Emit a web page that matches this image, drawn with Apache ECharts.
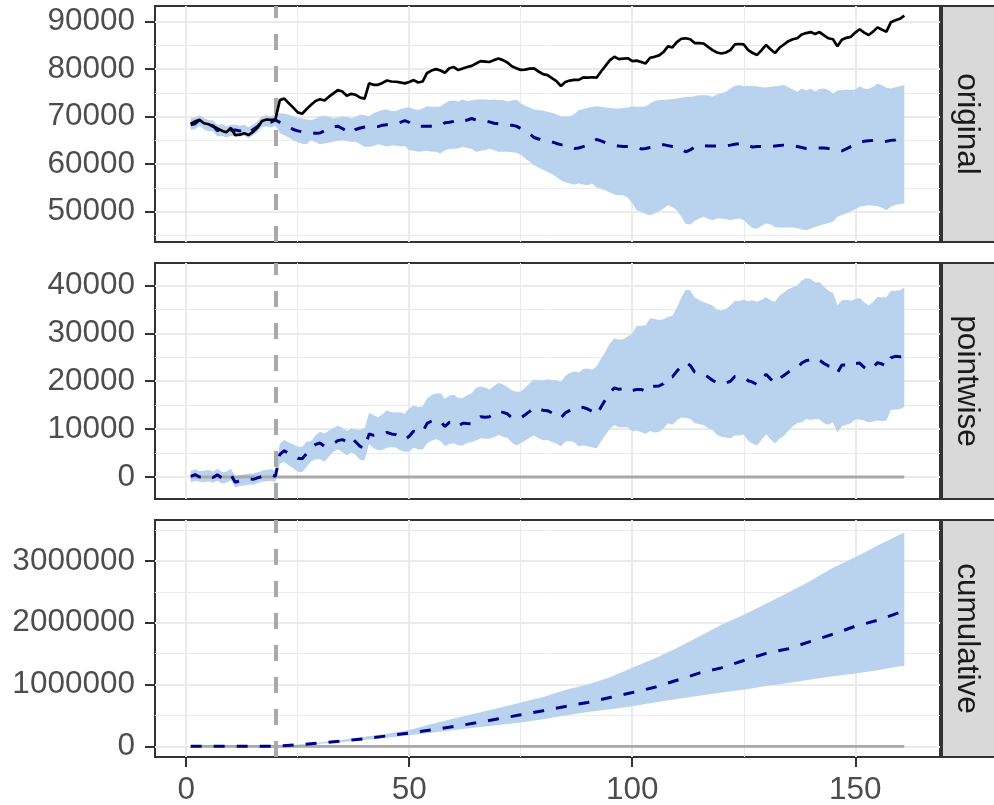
<!DOCTYPE html>
<html>
<head>
<meta charset="utf-8">
<title>CausalImpact</title>
<script src="https://cdn.jsdelivr.net/npm/echarts@6/dist/echarts.min.js"></script>
<style>
  html, body { margin: 0; padding: 0; background: #fff; }
  #main { width: 994px; height: 805px; }
</style>
</head>
<body>
<div id="main"></div>
<script>
// observed response (black line)
const actual = [
  68450, 69000, 69300, 68600, 68400, 68000, 67500, 67050, 66700, 67600,
  66100, 66200, 66500, 66150, 66800, 67700, 69100, 69400, 69300, 69450,
  73500, 73800, 72800, 71900, 70900, 70600, 71600, 72500, 73300, 73650,
  73400, 74200, 74900, 75600, 75300, 74400, 74800, 74600, 74000, 73800,
  77000, 76700, 76700, 77100, 77600, 77400, 77350, 77200, 77000, 77300,
  77700, 77200, 77400, 79200, 79700, 80000, 79700, 79250, 80200, 80450,
  79800, 80150, 80450, 80700, 81200, 81700, 81600, 81500, 81900, 82250,
  81900, 81400, 80600, 80200, 79850, 79900, 80100, 80150, 79500, 78950,
  78750, 78100, 77500, 76450, 77300, 77600, 77750, 77750, 78250, 78200,
  78300, 78200, 79500, 80700, 81900, 82600, 82100, 82200, 82300, 81700,
  81800, 81500, 81200, 82400, 82600, 82900, 83600, 84800, 84600, 85700,
  86400, 86500, 86300, 85500, 85500, 85400, 84700, 84000, 83500, 83300,
  83500, 84000, 85200, 85300, 85200, 84000, 83400, 83000, 84000, 85100,
  84200, 83400, 84500, 85200, 85900, 86300, 86500, 87300, 87600, 87800,
  87400, 87800, 87100, 86500, 86300, 84800, 86200, 86600, 86800, 87700,
  88400, 87700, 87200, 87900, 88800, 88300, 87900, 89900, 90300, 90600,
  91270
];
// predicted counterfactual (dashed) and its interval
const predMean = [
  68310, 68510, 69300, 68500, 68050, 68100, 67050, 67250, 66800, 67110,
  67200, 67000, 67200, 66550, 67300, 67900, 69000, 69050, 68850, 69300,
  68800, 68300, 67900, 67300, 67000, 66800, 66700, 66600, 66500, 66550,
  67000, 67500, 67900, 68000, 67500, 67000, 66500, 67300, 67600, 67800,
  68000, 68000, 67900, 68200, 68300, 68400, 68500, 68800, 69150, 68800,
  68100, 68000, 68000, 68000, 68000, 68000, 68100, 68700, 68800, 69000,
  69200, 68900, 69300, 69600, 69300, 69100, 69100, 68900, 68600, 68500,
  68400, 68200, 68200, 68000, 67500, 66900, 66400, 65600, 65300, 65000,
  64900, 64700, 64350, 64100, 63900, 63700, 63300, 63400, 63700, 64000,
  64600, 65200, 64900, 64500, 64200, 64000, 63800, 63700, 63700, 63650,
  63500, 63200, 63300, 63500, 63650, 63900, 64100, 63900, 63700, 63600,
  63200, 62600, 63000, 63600, 64000, 63900, 63800, 63800, 63850, 63850,
  63850, 64000, 64200, 64300, 64350, 63900, 63600, 63700, 63700, 63650,
  63700, 63800, 63900, 64000, 64000, 63900, 63700, 63500, 63300, 63300,
  63400, 63400, 63400, 63300, 63300, 63000, 62800, 63200, 63700, 64000,
  64600, 64800, 64900, 65000, 64900, 64700, 64800, 65000, 65100, 65500,
  66100
];
const predUpper = [
  69600, 69800, 70300, 69700, 69300, 69200, 68300, 68400, 67900, 68300,
  68300, 68100, 68300, 67700, 68400, 69000, 70100, 70300, 70100, 70500,
  70660, 70660, 70400, 70100, 69800, 69610, 69400, 69260, 69600, 69960,
  70200, 69900, 69610, 69800, 70100, 69900, 69610, 70000, 70450, 70300,
  70100, 70700, 71100, 71400, 71500, 71200, 71200, 71600, 71800, 72000,
  71600, 71400, 71700, 72200, 72100, 72100, 72200, 72800, 73300, 73400,
  73200, 73600, 73300, 73400, 73600, 73600, 73600, 73500, 73600, 73500,
  73500, 73200, 73400, 73600, 72800, 72300, 71900, 71500, 71400, 71300,
  71000, 70800, 70500, 70100, 69960, 70100, 70500, 71370, 71600, 71800,
  72070, 72200, 72100, 71930, 71800, 71720, 71720, 71800, 71900, 72200,
  72100, 72100, 72200, 72780, 73300, 73500, 73480, 73600, 73700, 73830,
  74000, 74180, 74180, 74300, 74500, 74530, 74500, 74200, 74700, 74900,
  75240, 75940, 76500, 76640, 76400, 76450, 76450, 76400, 76200, 76150,
  76300, 76400, 76500, 76640, 76200, 75700, 75240, 75900, 75500, 75900,
  75300, 75800, 75900, 75600, 74890, 75500, 75600, 75700, 75600, 75700,
  76400, 75900, 75800, 76300, 76990, 76600, 76100, 75900, 76200, 76400,
  76640
];
const predLower = [
  67200, 67400, 68100, 67300, 66900, 66900, 65800, 66000, 65600, 65900,
  66000, 65800, 66000, 65400, 66100, 66700, 67800, 67900, 67700, 68100,
  66500, 66100, 65600, 65040, 64600, 64300, 64200, 65040, 64600, 64200,
  64340, 64500, 64690, 64900, 65040, 64800, 64690, 64690, 64200, 63640,
  63640, 63800, 64200, 64000, 63640, 63900, 63900, 63700, 63800, 62940,
  62800, 62580, 62700, 62800, 62600, 62580, 62230, 62900, 63200, 63250,
  63300, 63640, 63400, 63200, 62580, 62800, 62900, 63250, 62900, 62580,
  62580, 62580, 62500, 62400, 62000, 61200, 60500, 59770, 59300, 58800,
  58360, 57900, 57300, 56600, 56200, 55900, 55690, 55900, 55700, 55550,
  55900, 55100, 54800, 54500, 54000, 53600, 53440, 53440, 52900, 51800,
  50280, 49900, 49500, 49230, 49600, 50100, 50630, 51330, 50900, 50300,
  48900, 47400, 47300, 48000, 48540, 48900, 48500, 48200, 48540, 48540,
  48400, 48190, 48400, 48540, 48190, 47300, 46500, 46400, 47000, 47500,
  47300, 46780, 46640, 46640, 46640, 46640, 46500, 46230, 46080, 46400,
  46780, 47100, 47350, 47600, 47840, 48900, 49300, 49600, 50000, 50500,
  51010, 51200, 51360, 51300, 51150, 50800, 50310, 51000, 51400, 51570,
  51710
];
// cumulative effect, read at these time points
const cumT = [1, 20, 25, 30, 35, 40, 45, 50, 55, 60, 65, 70, 75, 80, 85, 90,
  95, 100, 105, 110, 115, 120, 125, 130, 135, 140, 145, 150, 155, 160, 161];
const cumMean = [0, 0, 24000, 52000, 88000, 123000, 168000, 215000, 265000,
  320000, 380000, 445000, 510000, 575000, 645000, 710000, 790000, 870000,
  955000, 1070000, 1185000, 1270000, 1390000, 1505000, 1580000, 1700000,
  1815000, 1945000, 2040000, 2170000, 2200000];
const cumUpper = [0, 0, 30000, 60000, 105000, 155000, 205000, 265000, 360000,
  450000, 535000, 620000, 710000, 800000, 910000, 1000000, 1120000, 1270000,
  1420000, 1590000, 1780000, 1970000, 2130000, 2310000, 2490000, 2680000,
  2890000, 3060000, 3250000, 3430000, 3460000];
const cumLower = [0, 0, 18000, 40000, 68000, 100000, 140000, 178000, 220000,
  262000, 305000, 345000, 385000, 437000, 500000, 555000, 600000, 648000,
  710000, 765000, 820000, 870000, 915000, 975000, 1025000, 1080000, 1135000,
  1180000, 1230000, 1295000, 1300000];

const interventionT = 20;
const xTicks = [0, 50, 100, 150];
const xMinorTicks = [25, 75, 125];
const yTicks = [
  [50000, 60000, 70000, 80000, 90000],
  [0, 10000, 20000, 30000, 40000],
  [0, 1000000, 2000000, 3000000]
];
const yMinorTicks = [
  [45000, 55000, 65000, 75000, 85000],
  [5000, 15000, 25000, 35000],
  [500000, 1500000, 2500000, 3500000]
];
const stripLabels = ['original', 'pointwise', 'cumulative'];

// layout
const xRange = [-7, 169];
const yRanges = [[43600, 93300], [-4600, 44700], [-173500, 3665000]];
const tops = [6, 263, 520];
const heights = [236, 236, 237];
const LEFT = 155, WIDTH = 785;

const bandColor = '#b9d3ee';
const gridColor = '#ebebeb';
const labelFont = 'Liberation Sans';
const labelSize = 31.5;

const t = actual.map((_, i) => i + 1);
const pwMean = actual.map((v, i) => v - predMean[i]);
const pwLower = actual.map((v, i) => v - predUpper[i]);
const pwUpper = actual.map((v, i) => v - predLower[i]);

function pairs(xs, ys) {
  return xs.map((x, i) => [x, ys[i]]);
}

function band(gi, xs, lo, hi) {
  return {
    type: 'custom',
    xAxisIndex: gi * 2,
    yAxisIndex: gi * 2,
    z: 1,
    silent: true,
    data: xs.map((x, i) => [x, lo[i], hi[i]]),
    encode: { x: 0, y: [1, 2] },
    renderItem: function (params, api) {
      if (params.dataIndex !== 0) return null;
      const up = xs.map((x, i) => api.coord([x, hi[i]]));
      const down = xs.map((x, i) => api.coord([x, lo[i]])).reverse();
      return {
        type: 'polygon',
        shape: { points: up.concat(down) },
        style: { fill: bandColor }
      };
    }
  };
}

function vline() {
  return {
    silent: true,
    z: 5,
    symbol: ['none', 'none'],
    label: { show: false },
    lineStyle: { color: '#a9a9a9', width: 4, type: [16, 16] },
    data: [{ xAxis: interventionT }]
  };
}

function meanLine(gi, xs, ys, withVline) {
  const s = {
    type: 'line',
    xAxisIndex: gi * 2,
    yAxisIndex: gi * 2,
    z: 6,
    silent: true,
    symbol: 'none',
    data: pairs(xs, ys),
    lineStyle: { color: '#00008b', width: 3, type: [11, 12] }
  };
  if (withVline) s.markLine = vline();
  return s;
}

function baseline(gi) {
  return {
    type: 'line',
    xAxisIndex: gi * 2,
    yAxisIndex: gi * 2,
    z: 2,
    silent: true,
    symbol: 'none',
    data: pairs(t, t.map(() => 0)),
    lineStyle: { color: '#a9a9a9', width: 2.8 },
    markLine: vline()
  };
}

const grids = [], xAxes = [], yAxes = [];
tops.forEach((top, gi) => {
  const isBottom = gi === tops.length - 1;
  grids.push({
    left: LEFT, top: top, width: WIDTH, height: heights[gi],
    show: true, backgroundColor: '#fff',
    borderColor: '#333333', borderWidth: 2,
    containLabel: false, outerBoundsMode: 'none'
  });
  xAxes.push({
    type: 'value', gridIndex: gi, position: 'bottom',
    min: xRange[0], max: xRange[1],
    axisLine: { show: false, onZero: false },
    axisTick: { show: isBottom, customValues: xTicks, length: 10,
      lineStyle: { color: '#333333', width: 2 } },
    axisLabel: { show: isBottom, customValues: xTicks, margin: 17,
      color: '#4d4d4d', fontSize: labelSize, fontFamily: labelFont,
      formatter: v => String(v) },
    splitLine: { show: true, lineStyle: { color: gridColor, width: 2 } }
  });
  xAxes.push({
    type: 'value', gridIndex: gi, position: 'top',
    min: xRange[0], max: xRange[1],
    axisLine: { show: false, onZero: false },
    axisTick: { show: false, customValues: xMinorTicks },
    axisLabel: { show: false, customValues: xMinorTicks },
    splitLine: { show: true, lineStyle: { color: gridColor, width: 1 } }
  });
  yAxes.push({
    type: 'value', gridIndex: gi, position: 'left',
    min: yRanges[gi][0], max: yRanges[gi][1],
    axisLine: { show: false, onZero: false },
    axisTick: { show: true, customValues: yTicks[gi], length: 10,
      lineStyle: { color: '#333333', width: 2 } },
    axisLabel: { show: true, customValues: yTicks[gi], margin: 20,
      color: '#4d4d4d', fontSize: labelSize, fontFamily: labelFont,
      formatter: v => String(v) },
    splitLine: { show: true, lineStyle: { color: gridColor, width: 2 } }
  });
  yAxes.push({
    type: 'value', gridIndex: gi, position: 'right',
    min: yRanges[gi][0], max: yRanges[gi][1],
    axisLine: { show: false, onZero: false },
    axisTick: { show: false, customValues: yMinorTicks[gi] },
    axisLabel: { show: false, customValues: yMinorTicks[gi] },
    splitLine: { show: true, lineStyle: { color: gridColor, width: 1 } }
  });
});

const series = [
  // original
  band(0, t, predLower, predUpper),
  meanLine(0, t, predMean, true),
  {
    type: 'line', xAxisIndex: 0, yAxisIndex: 0, z: 7, silent: true,
    symbol: 'none', data: pairs(t, actual),
    lineStyle: { color: '#000000', width: 2.7 }
  },
  // pointwise
  band(1, t, pwLower, pwUpper),
  baseline(1),
  meanLine(1, t, pwMean, false),
  // cumulative
  band(2, cumT, cumLower, cumUpper),
  baseline(2),
  meanLine(2, cumT, cumMean, false)
];

const graphics = [];
tops.forEach((top, gi) => {
  graphics.push({
    type: 'rect', z: 10, silent: true,
    shape: { x: 942, y: top, width: 60, height: heights[gi] },
    style: { fill: '#d9d9d9', stroke: '#333333', lineWidth: 2 }
  });
  graphics.push({
    type: 'text', z: 11, silent: true,
    x: 967, y: top + heights[gi] / 2, rotation: -Math.PI / 2,
    style: {
      text: stripLabels[gi], fill: '#1a1a1a',
      font: labelSize + 'px "Liberation Sans"', align: 'center', verticalAlign: 'middle'
    }
  });
});

const myChart = echarts.init(document.getElementById('main'), null, { renderer: 'canvas' });
myChart.setOption({
  animation: false,
  backgroundColor: '#ffffff',
  textStyle: { fontFamily: labelFont },
  grid: grids,
  xAxis: xAxes,
  yAxis: yAxes,
  series: series,
  graphic: graphics
});
</script>
</body>
</html>
